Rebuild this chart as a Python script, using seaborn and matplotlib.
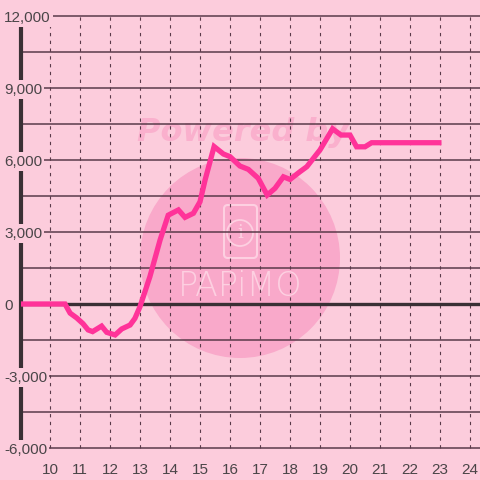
import matplotlib
matplotlib.use("Agg")
import matplotlib.pyplot as plt
import seaborn as sns
import pandas as pd
from matplotlib.patches import Ellipse, FancyBboxPatch

# ---- data ----
hours = [9.0, 10.5, 10.67, 10.89, 11.1, 11.27, 11.42, 11.72, 11.89, 12.17, 12.39,
         12.67, 12.83, 13.0, 13.33, 13.67, 13.94, 14.28, 14.5, 14.78, 15.0, 15.17,
         15.47, 15.78, 16.0, 16.33, 16.61, 16.94, 17.24, 17.5, 17.78, 18.0, 18.33,
         18.56, 19.0, 19.42, 19.7, 20.0, 20.22, 20.5, 20.72, 23.05]
values = [0, 0, -380, -580, -820, -1080, -1150, -920, -1180, -1290, -1040,
          -875, -600, -110, 1140, 2670, 3700, 3920, 3610, 3780, 4260, 5170,
          6560, 6250, 6140, 5750, 5610, 5240, 4540, 4820, 5300, 5190, 5510,
          5720, 6420, 7300, 7040, 7040, 6550, 6550, 6720, 6720]
x_ticks = list(range(10, 25))
y_ticks = [-6000, -3000, 0, 3000, 6000, 9000, 12000]
y_tick_labels = ["-6,000", "-3,000", "0", "3,000", "6,000", "9,000", "12,000"]
y_grid = list(range(-6000, 12001, 1500))

df = pd.DataFrame({"hour": hours, "value": values})

BG = "#FCCCDC"
LINE = "#FF3399"
GRID = "#5A3A4A"
AXIS = "#3A3035"
TXT = "#4A4548"
WM = "#FDD0E1"

sns.set_theme(style="white")
plt.rcParams["font.family"] = ["Liberation Sans", "DejaVu Sans"]

fig = plt.figure(figsize=(4.8, 4.8), dpi=100, facecolor=BG)
ax = fig.add_axes([21 / 480, 28 / 480, 459 / 480, 442 / 480])
ax.set_facecolor(BG)

# watermark
circ = Ellipse((240 / 480, 1 - 258 / 480), 200 / 480, 200 / 480,
               transform=fig.transFigure, facecolor="#F9A9CA", edgecolor="none", zorder=0.9)
ax.add_patch(circ)
ax.text(243 / 480, 1 - 132 / 480, "Powered by", transform=fig.transFigure,
        ha="center", va="center", fontsize=23, fontweight="bold", fontstyle="italic",
        color="#FAB0CD", zorder=1, family=["DejaVu Sans"])
phone = FancyBboxPatch((224 / 480, 1 - 258 / 480), 33 / 480, 53 / 480,
                       boxstyle="round,pad=0,rounding_size=0.008",
                       transform=fig.transFigure, facecolor="none",
                       edgecolor=WM, linewidth=1.5, zorder=1)
ax.add_patch(phone)
ring = Ellipse((240 / 480, 1 - 233 / 480), 26 / 480, 26 / 480,
               transform=fig.transFigure, facecolor="none",
               edgecolor=WM, linewidth=1.3, zorder=1)
ax.add_patch(ring)
ax.text(240 / 480, 1 - 233 / 480, "i", transform=fig.transFigure, ha="center",
        va="center", fontsize=13, color=WM, zorder=1, family=["DejaVu Serif"])
ax.text(240 / 480, 1 - 287 / 480, "PAPiMO", transform=fig.transFigure, ha="center",
        va="center", fontsize=24, color=WM, zorder=1,
        family=["DejaVu Sans"], fontweight="light")

# line
sns.lineplot(data=df, x="hour", y="value", ax=ax, color=LINE, linewidth=3.8,
             zorder=3, solid_joinstyle="miter", solid_capstyle="butt")

x0, x1 = 10 - 29 / 30, 24 + 10 / 30
ax.set_xlim(x0, x1)
upp = 3000 / 72
ax.set_ylim(-6000 - 4 * upp, 12000 + 6 * upp)

ax.grid(False)
ax.hlines(y_grid, x0, x1, colors=GRID, linewidth=1.1, zorder=2)
ax.vlines(x_ticks, -6000, 12000, colors=GRID, linewidth=0.8,
          linestyles=[(0, (3, 4))], zorder=2)

ax.set_xticks(x_ticks)
ax.set_xticklabels([str(t) for t in x_ticks])
ax.set_yticks(y_ticks)
ax.set_yticklabels(y_tick_labels)

ax.tick_params(axis="x", length=0, pad=8, labelsize=11, labelcolor=TXT)
ax.tick_params(axis="y", length=0, labelsize=11, labelcolor=TXT, pad=12.2)
for lbl in ax.get_yticklabels():
    lbl.set_horizontalalignment("left")
    lbl.set_bbox(dict(facecolor=BG, edgecolor="none", pad=1.5))
ax.yaxis.set_zorder(5)

for s in ["top", "right", "bottom"]:
    ax.spines[s].set_visible(False)
ax.spines["left"].set_color(AXIS)
ax.spines["left"].set_linewidth(3)
ax.spines["left"].set_bounds(-6000, 12000)
ax.spines["left"].set_zorder(2.7)
ax.axhline(0, color=AXIS, linewidth=2.4, zorder=2.6)

ax.set_xlabel("")
ax.set_ylabel("")
legend = ax.get_legend()
if legend:
    legend.remove()

fig.savefig("out.png", dpi=100, facecolor=BG)
